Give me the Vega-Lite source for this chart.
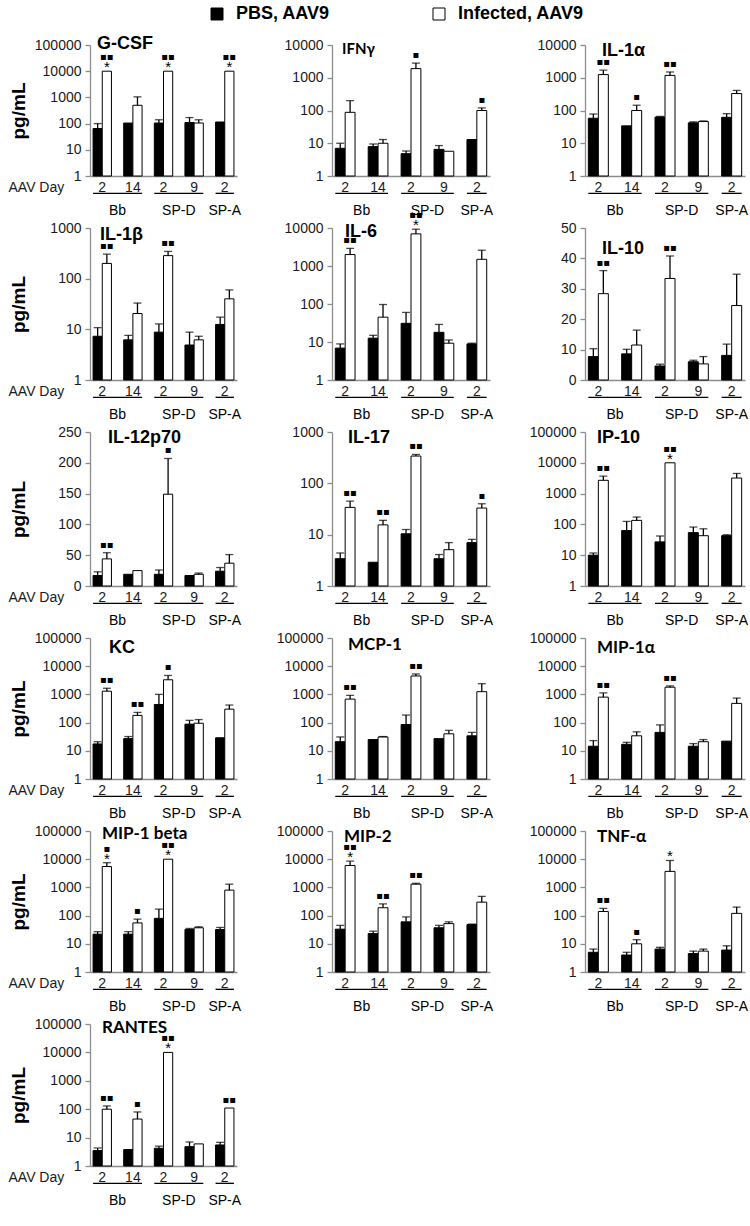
{
"$schema":"https://vega.github.io/schema/vega-lite/v6.json",
"padding":{"left":8,"top":5,"right":5,"bottom":5},
"background":"white",
"datasets":{
"groups":[{"grp":"Bb","first":"Bb 2","last":"Bb 14","n":2},{"grp":"SP-D","first":"SP-D 2","last":"SP-D 9","n":2},{"grp":"SP-A","first":"SP-A 2","last":"SP-A 2","n":1}],
"bars":[
{"c":"G-CSF","cond":"Bb 2","trt":"PBS, AAV9","val":65,"err":100},
{"c":"G-CSF","cond":"Bb 2","trt":"Infected, AAV9","val":10000,"err":10000,"sig":"▪▪","star":"*"},
{"c":"G-CSF","cond":"Bb 14","trt":"PBS, AAV9","val":105,"err":105},
{"c":"G-CSF","cond":"Bb 14","trt":"Infected, AAV9","val":500,"err":1050},
{"c":"G-CSF","cond":"SP-D 2","trt":"PBS, AAV9","val":105,"err":140},
{"c":"G-CSF","cond":"SP-D 2","trt":"Infected, AAV9","val":10000,"err":10000,"sig":"▪▪","star":"*"},
{"c":"G-CSF","cond":"SP-D 9","trt":"PBS, AAV9","val":110,"err":170},
{"c":"G-CSF","cond":"SP-D 9","trt":"Infected, AAV9","val":105,"err":140},
{"c":"G-CSF","cond":"SP-A 2","trt":"PBS, AAV9","val":115,"err":115},
{"c":"G-CSF","cond":"SP-A 2","trt":"Infected, AAV9","val":10000,"err":10000,"sig":"▪▪","star":"*"},
{"c":"IFNγ","cond":"Bb 2","trt":"PBS, AAV9","val":7,"err":10},
{"c":"IFNγ","cond":"Bb 2","trt":"Infected, AAV9","val":88,"err":200},
{"c":"IFNγ","cond":"Bb 14","trt":"PBS, AAV9","val":7.9,"err":9.5},
{"c":"IFNγ","cond":"Bb 14","trt":"Infected, AAV9","val":10,"err":13},
{"c":"IFNγ","cond":"SP-D 2","trt":"PBS, AAV9","val":4.8,"err":5.8},
{"c":"IFNγ","cond":"SP-D 2","trt":"Infected, AAV9","val":1900,"err":2800,"sig":"▪"},
{"c":"IFNγ","cond":"SP-D 9","trt":"PBS, AAV9","val":6.5,"err":8.5},
{"c":"IFNγ","cond":"SP-D 9","trt":"Infected, AAV9","val":5.7,"err":5.7},
{"c":"IFNγ","cond":"SP-A 2","trt":"PBS, AAV9","val":13,"err":13},
{"c":"IFNγ","cond":"SP-A 2","trt":"Infected, AAV9","val":100,"err":120,"sig":"▪"},
{"c":"IL-1α","cond":"Bb 2","trt":"PBS, AAV9","val":58,"err":78},
{"c":"IL-1α","cond":"Bb 2","trt":"Infected, AAV9","val":1250,"err":1700,"sig":"▪▪"},
{"c":"IL-1α","cond":"Bb 14","trt":"PBS, AAV9","val":34,"err":34},
{"c":"IL-1α","cond":"Bb 14","trt":"Infected, AAV9","val":100,"err":145,"sig":"▪"},
{"c":"IL-1α","cond":"SP-D 2","trt":"PBS, AAV9","val":63,"err":66},
{"c":"IL-1α","cond":"SP-D 2","trt":"Infected, AAV9","val":1180,"err":1500,"sig":"▪▪"},
{"c":"IL-1α","cond":"SP-D 9","trt":"PBS, AAV9","val":42,"err":45},
{"c":"IL-1α","cond":"SP-D 9","trt":"Infected, AAV9","val":46,"err":48},
{"c":"IL-1α","cond":"SP-A 2","trt":"PBS, AAV9","val":62,"err":80},
{"c":"IL-1α","cond":"SP-A 2","trt":"Infected, AAV9","val":330,"err":410},
{"c":"IL-1β","cond":"Bb 2","trt":"PBS, AAV9","val":7.3,"err":10.8},
{"c":"IL-1β","cond":"Bb 2","trt":"Infected, AAV9","val":200,"err":305,"sig":"▪▪"},
{"c":"IL-1β","cond":"Bb 14","trt":"PBS, AAV9","val":6.2,"err":7.6},
{"c":"IL-1β","cond":"Bb 14","trt":"Infected, AAV9","val":20.5,"err":33},
{"c":"IL-1β","cond":"SP-D 2","trt":"PBS, AAV9","val":8.8,"err":12.8},
{"c":"IL-1β","cond":"SP-D 2","trt":"Infected, AAV9","val":285,"err":345,"sig":"▪▪"},
{"c":"IL-1β","cond":"SP-D 9","trt":"PBS, AAV9","val":4.9,"err":8.8},
{"c":"IL-1β","cond":"SP-D 9","trt":"Infected, AAV9","val":6.2,"err":7.3},
{"c":"IL-1β","cond":"SP-A 2","trt":"PBS, AAV9","val":12.5,"err":17.4},
{"c":"IL-1β","cond":"SP-A 2","trt":"Infected, AAV9","val":40,"err":60},
{"c":"IL-6","cond":"Bb 2","trt":"PBS, AAV9","val":6.9,"err":8.9},
{"c":"IL-6","cond":"Bb 2","trt":"Infected, AAV9","val":2000,"err":2900,"sig":"▪▪"},
{"c":"IL-6","cond":"Bb 14","trt":"PBS, AAV9","val":12.6,"err":15},
{"c":"IL-6","cond":"Bb 14","trt":"Infected, AAV9","val":45,"err":97},
{"c":"IL-6","cond":"SP-D 2","trt":"PBS, AAV9","val":31,"err":60},
{"c":"IL-6","cond":"SP-D 2","trt":"Infected, AAV9","val":7000,"err":9300,"sig":"▪▪","star":"*"},
{"c":"IL-6","cond":"SP-D 9","trt":"PBS, AAV9","val":18,"err":29},
{"c":"IL-6","cond":"SP-D 9","trt":"Infected, AAV9","val":9.3,"err":11.3},
{"c":"IL-6","cond":"SP-A 2","trt":"PBS, AAV9","val":8.9,"err":9.3},
{"c":"IL-6","cond":"SP-A 2","trt":"Infected, AAV9","val":1500,"err":2600},
{"c":"IL-10","cond":"Bb 2","trt":"PBS, AAV9","val":7.7,"err":10.3},
{"c":"IL-10","cond":"Bb 2","trt":"Infected, AAV9","val":28.4,"err":36,"sig":"▪▪"},
{"c":"IL-10","cond":"Bb 14","trt":"PBS, AAV9","val":8.6,"err":10.1},
{"c":"IL-10","cond":"Bb 14","trt":"Infected, AAV9","val":11.5,"err":16.4},
{"c":"IL-10","cond":"SP-D 2","trt":"PBS, AAV9","val":4.6,"err":5.2},
{"c":"IL-10","cond":"SP-D 2","trt":"Infected, AAV9","val":33.4,"err":40.8,"sig":"▪▪"},
{"c":"IL-10","cond":"SP-D 9","trt":"PBS, AAV9","val":6,"err":6.5},
{"c":"IL-10","cond":"SP-D 9","trt":"Infected, AAV9","val":5.3,"err":7.7},
{"c":"IL-10","cond":"SP-A 2","trt":"PBS, AAV9","val":8.1,"err":11.8},
{"c":"IL-10","cond":"SP-A 2","trt":"Infected, AAV9","val":24.5,"err":34.8},
{"c":"IL-12p70","cond":"Bb 2","trt":"PBS, AAV9","val":17,"err":23},
{"c":"IL-12p70","cond":"Bb 2","trt":"Infected, AAV9","val":44,"err":54,"sig":"▪▪"},
{"c":"IL-12p70","cond":"Bb 14","trt":"PBS, AAV9","val":19,"err":19},
{"c":"IL-12p70","cond":"Bb 14","trt":"Infected, AAV9","val":25,"err":25},
{"c":"IL-12p70","cond":"SP-D 2","trt":"PBS, AAV9","val":19,"err":26},
{"c":"IL-12p70","cond":"SP-D 2","trt":"Infected, AAV9","val":149,"err":207,"sig":"▪"},
{"c":"IL-12p70","cond":"SP-D 9","trt":"PBS, AAV9","val":17,"err":17},
{"c":"IL-12p70","cond":"SP-D 9","trt":"Infected, AAV9","val":19,"err":21},
{"c":"IL-12p70","cond":"SP-A 2","trt":"PBS, AAV9","val":24,"err":30},
{"c":"IL-12p70","cond":"SP-A 2","trt":"Infected, AAV9","val":37,"err":51},
{"c":"IL-17","cond":"Bb 2","trt":"PBS, AAV9","val":3.4,"err":4.4},
{"c":"IL-17","cond":"Bb 2","trt":"Infected, AAV9","val":34,"err":45,"sig":"▪▪"},
{"c":"IL-17","cond":"Bb 14","trt":"PBS, AAV9","val":2.9,"err":2.9},
{"c":"IL-17","cond":"Bb 14","trt":"Infected, AAV9","val":15.5,"err":19,"sig":"▪▪"},
{"c":"IL-17","cond":"SP-D 2","trt":"PBS, AAV9","val":10.4,"err":12.6},
{"c":"IL-17","cond":"SP-D 2","trt":"Infected, AAV9","val":340,"err":365,"sig":"▪▪"},
{"c":"IL-17","cond":"SP-D 9","trt":"PBS, AAV9","val":3.4,"err":4.1},
{"c":"IL-17","cond":"SP-D 9","trt":"Infected, AAV9","val":5.1,"err":7},
{"c":"IL-17","cond":"SP-A 2","trt":"PBS, AAV9","val":7,"err":8.1},
{"c":"IL-17","cond":"SP-A 2","trt":"Infected, AAV9","val":33,"err":40,"sig":"▪"},
{"c":"IP-10","cond":"Bb 2","trt":"PBS, AAV9","val":10,"err":11.8},
{"c":"IP-10","cond":"Bb 2","trt":"Infected, AAV9","val":2700,"err":3700,"sig":"▪▪"},
{"c":"IP-10","cond":"Bb 14","trt":"PBS, AAV9","val":63,"err":125},
{"c":"IP-10","cond":"Bb 14","trt":"Infected, AAV9","val":135,"err":173},
{"c":"IP-10","cond":"SP-D 2","trt":"PBS, AAV9","val":27,"err":42},
{"c":"IP-10","cond":"SP-D 2","trt":"Infected, AAV9","val":10000,"err":10000,"sig":"▪▪","star":"*"},
{"c":"IP-10","cond":"SP-D 9","trt":"PBS, AAV9","val":54,"err":82},
{"c":"IP-10","cond":"SP-D 9","trt":"Infected, AAV9","val":43,"err":72},
{"c":"IP-10","cond":"SP-A 2","trt":"PBS, AAV9","val":43,"err":46},
{"c":"IP-10","cond":"SP-A 2","trt":"Infected, AAV9","val":3200,"err":4500},
{"c":"KC","cond":"Bb 2","trt":"PBS, AAV9","val":17.5,"err":21},
{"c":"KC","cond":"Bb 2","trt":"Infected, AAV9","val":1300,"err":1650,"sig":"▪▪"},
{"c":"KC","cond":"Bb 14","trt":"PBS, AAV9","val":27,"err":32},
{"c":"KC","cond":"Bb 14","trt":"Infected, AAV9","val":180,"err":230,"sig":"▪▪"},
{"c":"KC","cond":"SP-D 2","trt":"PBS, AAV9","val":440,"err":1000},
{"c":"KC","cond":"SP-D 2","trt":"Infected, AAV9","val":3300,"err":4700,"sig":"▪"},
{"c":"KC","cond":"SP-D 9","trt":"PBS, AAV9","val":88,"err":120},
{"c":"KC","cond":"SP-D 9","trt":"Infected, AAV9","val":95,"err":128},
{"c":"KC","cond":"SP-A 2","trt":"PBS, AAV9","val":29,"err":29},
{"c":"KC","cond":"SP-A 2","trt":"Infected, AAV9","val":300,"err":420},
{"c":"MCP-1","cond":"Bb 2","trt":"PBS, AAV9","val":21,"err":31},
{"c":"MCP-1","cond":"Bb 2","trt":"Infected, AAV9","val":680,"err":930,"sig":"▪▪"},
{"c":"MCP-1","cond":"Bb 14","trt":"PBS, AAV9","val":25,"err":25},
{"c":"MCP-1","cond":"Bb 14","trt":"Infected, AAV9","val":31,"err":32},
{"c":"MCP-1","cond":"SP-D 2","trt":"PBS, AAV9","val":85,"err":185},
{"c":"MCP-1","cond":"SP-D 2","trt":"Infected, AAV9","val":4500,"err":5300,"sig":"▪▪"},
{"c":"MCP-1","cond":"SP-D 9","trt":"PBS, AAV9","val":27,"err":27},
{"c":"MCP-1","cond":"SP-D 9","trt":"Infected, AAV9","val":40,"err":53},
{"c":"MCP-1","cond":"SP-A 2","trt":"PBS, AAV9","val":34,"err":45},
{"c":"MCP-1","cond":"SP-A 2","trt":"Infected, AAV9","val":1250,"err":2400},
{"c":"MIP-1α","cond":"Bb 2","trt":"PBS, AAV9","val":14.5,"err":23},
{"c":"MIP-1α","cond":"Bb 2","trt":"Infected, AAV9","val":800,"err":1130,"sig":"▪▪"},
{"c":"MIP-1α","cond":"Bb 14","trt":"PBS, AAV9","val":17,"err":20},
{"c":"MIP-1α","cond":"Bb 14","trt":"Infected, AAV9","val":34,"err":47},
{"c":"MIP-1α","cond":"SP-D 2","trt":"PBS, AAV9","val":45,"err":83},
{"c":"MIP-1α","cond":"SP-D 2","trt":"Infected, AAV9","val":1800,"err":2000,"sig":"▪▪"},
{"c":"MIP-1α","cond":"SP-D 9","trt":"PBS, AAV9","val":14.5,"err":18},
{"c":"MIP-1α","cond":"SP-D 9","trt":"Infected, AAV9","val":21,"err":25},
{"c":"MIP-1α","cond":"SP-A 2","trt":"PBS, AAV9","val":22,"err":22},
{"c":"MIP-1α","cond":"SP-A 2","trt":"Infected, AAV9","val":480,"err":740},
{"c":"MIP-1 beta","cond":"Bb 2","trt":"PBS, AAV9","val":22,"err":27},
{"c":"MIP-1 beta","cond":"Bb 2","trt":"Infected, AAV9","val":5500,"err":7500,"sig":"▪","star":"*"},
{"c":"MIP-1 beta","cond":"Bb 14","trt":"PBS, AAV9","val":22,"err":27},
{"c":"MIP-1 beta","cond":"Bb 14","trt":"Infected, AAV9","val":55,"err":75,"sig":"▪"},
{"c":"MIP-1 beta","cond":"SP-D 2","trt":"PBS, AAV9","val":80,"err":170},
{"c":"MIP-1 beta","cond":"SP-D 2","trt":"Infected, AAV9","val":10000,"err":10000,"sig":"▪▪","star":"*"},
{"c":"MIP-1 beta","cond":"SP-D 9","trt":"PBS, AAV9","val":32,"err":35},
{"c":"MIP-1 beta","cond":"SP-D 9","trt":"Infected, AAV9","val":37,"err":40},
{"c":"MIP-1 beta","cond":"SP-A 2","trt":"PBS, AAV9","val":32,"err":38},
{"c":"MIP-1 beta","cond":"SP-A 2","trt":"Infected, AAV9","val":800,"err":1300},
{"c":"MIP-2","cond":"Bb 2","trt":"PBS, AAV9","val":33,"err":45},
{"c":"MIP-2","cond":"Bb 2","trt":"Infected, AAV9","val":6000,"err":8500,"sig":"▪▪","star":"*"},
{"c":"MIP-2","cond":"Bb 14","trt":"PBS, AAV9","val":23,"err":28},
{"c":"MIP-2","cond":"Bb 14","trt":"Infected, AAV9","val":190,"err":260,"sig":"▪▪"},
{"c":"MIP-2","cond":"SP-D 2","trt":"PBS, AAV9","val":60,"err":90},
{"c":"MIP-2","cond":"SP-D 2","trt":"Infected, AAV9","val":1300,"err":1400,"sig":"▪▪"},
{"c":"MIP-2","cond":"SP-D 9","trt":"PBS, AAV9","val":37,"err":45},
{"c":"MIP-2","cond":"SP-D 9","trt":"Infected, AAV9","val":52,"err":60},
{"c":"MIP-2","cond":"SP-A 2","trt":"PBS, AAV9","val":48,"err":50},
{"c":"MIP-2","cond":"SP-A 2","trt":"Infected, AAV9","val":300,"err":480},
{"c":"TNF-α","cond":"Bb 2","trt":"PBS, AAV9","val":5,"err":6.5},
{"c":"TNF-α","cond":"Bb 2","trt":"Infected, AAV9","val":140,"err":180,"sig":"▪▪"},
{"c":"TNF-α","cond":"Bb 14","trt":"PBS, AAV9","val":4,"err":5},
{"c":"TNF-α","cond":"Bb 14","trt":"Infected, AAV9","val":10,"err":14,"sig":"▪"},
{"c":"TNF-α","cond":"SP-D 2","trt":"PBS, AAV9","val":6.5,"err":7.5},
{"c":"TNF-α","cond":"SP-D 2","trt":"Infected, AAV9","val":3700,"err":9000,"star":"*"},
{"c":"TNF-α","cond":"SP-D 9","trt":"PBS, AAV9","val":4.5,"err":5.5},
{"c":"TNF-α","cond":"SP-D 9","trt":"Infected, AAV9","val":5.5,"err":6.5},
{"c":"TNF-α","cond":"SP-A 2","trt":"PBS, AAV9","val":6,"err":8.5},
{"c":"TNF-α","cond":"SP-A 2","trt":"Infected, AAV9","val":120,"err":200},
{"c":"RANTES","cond":"Bb 2","trt":"PBS, AAV9","val":3.5,"err":4.3},
{"c":"RANTES","cond":"Bb 2","trt":"Infected, AAV9","val":100,"err":130,"sig":"▪▪"},
{"c":"RANTES","cond":"Bb 14","trt":"PBS, AAV9","val":3.8,"err":3.8},
{"c":"RANTES","cond":"Bb 14","trt":"Infected, AAV9","val":45,"err":80,"sig":"▪"},
{"c":"RANTES","cond":"SP-D 2","trt":"PBS, AAV9","val":4.2,"err":5},
{"c":"RANTES","cond":"SP-D 2","trt":"Infected, AAV9","val":10000,"err":10000,"sig":"▪▪","star":"*"},
{"c":"RANTES","cond":"SP-D 9","trt":"PBS, AAV9","val":4.8,"err":7},
{"c":"RANTES","cond":"SP-D 9","trt":"Infected, AAV9","val":6,"err":6},
{"c":"RANTES","cond":"SP-A 2","trt":"PBS, AAV9","val":5.5,"err":6.8},
{"c":"RANTES","cond":"SP-A 2","trt":"Infected, AAV9","val":110,"err":110,"sig":"▪▪"}
]},
"columns":3,
"spacing":{"row":0,"column":95},
"bounds":"flush",
"align":"each",
"resolve":{"scale":{"xOffset":"independent"}},
"concat":[
{"width":147,"height":131,"title":{"text":"G-CSF","dx":7,"offset":-15},"data":{"name":"bars"},"transform":[{"filter":"datum.c == 'G-CSF'"}],
"encoding":{"x":{"field":"cond","type":"nominal","sort":null,"scale":{"domain":["Bb 2","Bb 14","SP-D 2","SP-D 9","SP-A 2"],"paddingInner":0.4,"paddingOuter":0.1},"axis":{"labelExpr":"split(datum.label, ' ')[1]","title":"AAV Day","titleX":-82,"titleY":11,"titleAlign":"left","titleBaseline":"middle","titleAngle":0}},
"xOffset":{"field":"trt","type":"nominal","sort":null,"scale":{"domain":["PBS, AAV9","Infected, AAV9"],"paddingInner":0,"paddingOuter":0}}},
"layer":[
{"mark":"bar","encoding":{"y":{"field":"val","type":"quantitative","stack":null,"scale":{"type":"log","domain":[1,100000],"nice":false},"axis":{"values":[1,10,100,1000,10000,100000],"tickCount":10,"format":"d","title":"pg/mL","titleX":-72,"titleBaseline":"middle"}},"y2":{"datum":1},"fill":{"field":"trt","type":"nominal","scale":{"domain":["PBS, AAV9","Infected, AAV9"],"range":["black","white"]},"legend":{"title":null}}}},
{"transform":[{"filter":"datum.err > datum.val"}],"mark":"rule","encoding":{"y":{"field":"val","type":"quantitative"},"y2":{"field":"err"}}},
{"transform":[{"filter":"datum.err > datum.val"}],"mark":{"type":"tick","size":8},"encoding":{"y":{"field":"err","type":"quantitative"}}},
{"transform":[{"filter":"datum.star"}],"mark":{"type":"text","font":"Liberation Sans","fontSize":15,"dy":1},"encoding":{"y":{"field":"err","type":"quantitative"},"text":{"field":"star"}}},
{"transform":[{"filter":"datum.sig && datum.star"}],"mark":{"type":"text","font":"DejaVu Sans","fontSize":10,"dy":-11},"encoding":{"y":{"field":"err","type":"quantitative"},"text":{"field":"sig"}}},
{"transform":[{"filter":"datum.sig && !datum.star"}],"mark":{"type":"text","font":"DejaVu Sans","fontSize":10,"dy":-5},"encoding":{"y":{"field":"err","type":"quantitative"},"text":{"field":"sig"}}}
]},
{"width":158,"height":131,"title":{"text":"IFNγ","font":"Lato","fontSize":15,"dx":10,"offset":-19},"data":{"name":"bars"},"transform":[{"filter":"datum.c == 'IFNγ'"}],
"encoding":{"x":{"field":"cond","type":"nominal","sort":null,"scale":{"domain":["Bb 2","Bb 14","SP-D 2","SP-D 9","SP-A 2"],"paddingInner":0.4,"paddingOuter":0.1},"axis":{"labelExpr":"split(datum.label, ' ')[1]","title":null}},
"xOffset":{"field":"trt","type":"nominal","sort":null,"scale":{"domain":["PBS, AAV9","Infected, AAV9"],"paddingInner":0,"paddingOuter":0}}},
"layer":[
{"mark":"bar","encoding":{"y":{"field":"val","type":"quantitative","stack":null,"scale":{"type":"log","domain":[1,10000],"nice":false},"axis":{"values":[1,10,100,1000,10000],"tickCount":10,"format":"d","title":null}},"y2":{"datum":1},"fill":{"field":"trt","type":"nominal","scale":{"domain":["PBS, AAV9","Infected, AAV9"],"range":["black","white"]},"legend":{"title":null}}}},
{"transform":[{"filter":"datum.err > datum.val"}],"mark":"rule","encoding":{"y":{"field":"val","type":"quantitative"},"y2":{"field":"err"}}},
{"transform":[{"filter":"datum.err > datum.val"}],"mark":{"type":"tick","size":8},"encoding":{"y":{"field":"err","type":"quantitative"}}},
{"transform":[{"filter":"datum.star"}],"mark":{"type":"text","font":"Liberation Sans","fontSize":15,"dy":1},"encoding":{"y":{"field":"err","type":"quantitative"},"text":{"field":"star"}}},
{"transform":[{"filter":"datum.sig && datum.star"}],"mark":{"type":"text","font":"DejaVu Sans","fontSize":10,"dy":-11},"encoding":{"y":{"field":"err","type":"quantitative"},"text":{"field":"sig"}}},
{"transform":[{"filter":"datum.sig && !datum.star"}],"mark":{"type":"text","font":"DejaVu Sans","fontSize":10,"dy":-5},"encoding":{"y":{"field":"err","type":"quantitative"},"text":{"field":"sig"}}}
]},
{"width":160,"height":131,"title":{"text":"IL-1α","dx":17,"offset":-22},"data":{"name":"bars"},"transform":[{"filter":"datum.c == 'IL-1α'"}],
"encoding":{"x":{"field":"cond","type":"nominal","sort":null,"scale":{"domain":["Bb 2","Bb 14","SP-D 2","SP-D 9","SP-A 2"],"paddingInner":0.4,"paddingOuter":0.1},"axis":{"labelExpr":"split(datum.label, ' ')[1]","title":null}},
"xOffset":{"field":"trt","type":"nominal","sort":null,"scale":{"domain":["PBS, AAV9","Infected, AAV9"],"paddingInner":0,"paddingOuter":0}}},
"layer":[
{"mark":"bar","encoding":{"y":{"field":"val","type":"quantitative","stack":null,"scale":{"type":"log","domain":[1,10000],"nice":false},"axis":{"values":[1,10,100,1000,10000],"tickCount":10,"format":"d","title":null}},"y2":{"datum":1},"fill":{"field":"trt","type":"nominal","scale":{"domain":["PBS, AAV9","Infected, AAV9"],"range":["black","white"]},"legend":{"title":null}}}},
{"transform":[{"filter":"datum.err > datum.val"}],"mark":"rule","encoding":{"y":{"field":"val","type":"quantitative"},"y2":{"field":"err"}}},
{"transform":[{"filter":"datum.err > datum.val"}],"mark":{"type":"tick","size":8},"encoding":{"y":{"field":"err","type":"quantitative"}}},
{"transform":[{"filter":"datum.star"}],"mark":{"type":"text","font":"Liberation Sans","fontSize":15,"dy":1},"encoding":{"y":{"field":"err","type":"quantitative"},"text":{"field":"star"}}},
{"transform":[{"filter":"datum.sig && datum.star"}],"mark":{"type":"text","font":"DejaVu Sans","fontSize":10,"dy":-11},"encoding":{"y":{"field":"err","type":"quantitative"},"text":{"field":"sig"}}},
{"transform":[{"filter":"datum.sig && !datum.star"}],"mark":{"type":"text","font":"DejaVu Sans","fontSize":10,"dy":-5},"encoding":{"y":{"field":"err","type":"quantitative"},"text":{"field":"sig"}}}
]},
{"width":147,"height":52,"data":{"name":"groups"},"layer":[
{"mark":"rule","encoding":{"x":{"field":"first","type":"nominal","bandPosition":0,"scale":{"domain":["Bb 2","Bb 14","SP-D 2","SP-D 9","SP-A 2"],"paddingInner":0.4,"paddingOuter":0.1},"axis":null},"x2":{"field":"last","bandPosition":1},"y":{"datum":"line","type":"nominal","scale":{"type":"point","domain":["line","label"],"padding":2},"axis":null}}},
{"transform":[{"filter":"datum.n == 2"}],"mark":{"type":"text","baseline":"middle","fontSize":14},"encoding":{"x":{"field":"first","type":"nominal","bandPosition":1.3333,"axis":null},"y":{"datum":"label","type":"nominal","axis":null},"text":{"field":"grp"}}},
{"transform":[{"filter":"datum.n == 1"}],"mark":{"type":"text","baseline":"middle","fontSize":14},"encoding":{"x":{"field":"first","type":"nominal","bandPosition":0.5,"axis":null},"y":{"datum":"label","type":"nominal","axis":null},"text":{"field":"grp"}}}
]},
{"width":158,"height":52,"data":{"name":"groups"},"layer":[
{"mark":"rule","encoding":{"x":{"field":"first","type":"nominal","bandPosition":0,"scale":{"domain":["Bb 2","Bb 14","SP-D 2","SP-D 9","SP-A 2"],"paddingInner":0.4,"paddingOuter":0.1},"axis":null},"x2":{"field":"last","bandPosition":1},"y":{"datum":"line","type":"nominal","scale":{"type":"point","domain":["line","label"],"padding":2},"axis":null}}},
{"transform":[{"filter":"datum.n == 2"}],"mark":{"type":"text","baseline":"middle","fontSize":14},"encoding":{"x":{"field":"first","type":"nominal","bandPosition":1.3333,"axis":null},"y":{"datum":"label","type":"nominal","axis":null},"text":{"field":"grp"}}},
{"transform":[{"filter":"datum.n == 1"}],"mark":{"type":"text","baseline":"middle","fontSize":14},"encoding":{"x":{"field":"first","type":"nominal","bandPosition":0.5,"axis":null},"y":{"datum":"label","type":"nominal","axis":null},"text":{"field":"grp"}}}
]},
{"width":160,"height":52,"data":{"name":"groups"},"layer":[
{"mark":"rule","encoding":{"x":{"field":"first","type":"nominal","bandPosition":0,"scale":{"domain":["Bb 2","Bb 14","SP-D 2","SP-D 9","SP-A 2"],"paddingInner":0.4,"paddingOuter":0.1},"axis":null},"x2":{"field":"last","bandPosition":1},"y":{"datum":"line","type":"nominal","scale":{"type":"point","domain":["line","label"],"padding":2},"axis":null}}},
{"transform":[{"filter":"datum.n == 2"}],"mark":{"type":"text","baseline":"middle","fontSize":14},"encoding":{"x":{"field":"first","type":"nominal","bandPosition":1.3333,"axis":null},"y":{"datum":"label","type":"nominal","axis":null},"text":{"field":"grp"}}},
{"transform":[{"filter":"datum.n == 1"}],"mark":{"type":"text","baseline":"middle","fontSize":14},"encoding":{"x":{"field":"first","type":"nominal","bandPosition":0.5,"axis":null},"y":{"datum":"label","type":"nominal","axis":null},"text":{"field":"grp"}}}
]},
{"width":147,"height":152,"title":{"text":"IL-1β","dx":10,"offset":-23},"data":{"name":"bars"},"transform":[{"filter":"datum.c == 'IL-1β'"}],
"encoding":{"x":{"field":"cond","type":"nominal","sort":null,"scale":{"domain":["Bb 2","Bb 14","SP-D 2","SP-D 9","SP-A 2"],"paddingInner":0.4,"paddingOuter":0.1},"axis":{"labelExpr":"split(datum.label, ' ')[1]","title":"AAV Day","titleX":-82,"titleY":11,"titleAlign":"left","titleBaseline":"middle","titleAngle":0}},
"xOffset":{"field":"trt","type":"nominal","sort":null,"scale":{"domain":["PBS, AAV9","Infected, AAV9"],"paddingInner":0,"paddingOuter":0}}},
"layer":[
{"mark":"bar","encoding":{"y":{"field":"val","type":"quantitative","stack":null,"scale":{"type":"log","domain":[1,1000],"nice":false},"axis":{"values":[1,10,100,1000],"tickCount":10,"format":"d","title":"pg/mL","titleX":-72,"titleBaseline":"middle"}},"y2":{"datum":1},"fill":{"field":"trt","type":"nominal","scale":{"domain":["PBS, AAV9","Infected, AAV9"],"range":["black","white"]},"legend":{"title":null}}}},
{"transform":[{"filter":"datum.err > datum.val"}],"mark":"rule","encoding":{"y":{"field":"val","type":"quantitative"},"y2":{"field":"err"}}},
{"transform":[{"filter":"datum.err > datum.val"}],"mark":{"type":"tick","size":8},"encoding":{"y":{"field":"err","type":"quantitative"}}},
{"transform":[{"filter":"datum.star"}],"mark":{"type":"text","font":"Liberation Sans","fontSize":15,"dy":1},"encoding":{"y":{"field":"err","type":"quantitative"},"text":{"field":"star"}}},
{"transform":[{"filter":"datum.sig && datum.star"}],"mark":{"type":"text","font":"DejaVu Sans","fontSize":10,"dy":-11},"encoding":{"y":{"field":"err","type":"quantitative"},"text":{"field":"sig"}}},
{"transform":[{"filter":"datum.sig && !datum.star"}],"mark":{"type":"text","font":"DejaVu Sans","fontSize":10,"dy":-5},"encoding":{"y":{"field":"err","type":"quantitative"},"text":{"field":"sig"}}}
]},
{"width":158,"height":152,"title":{"text":"IL-6","dx":13,"offset":-31},"data":{"name":"bars"},"transform":[{"filter":"datum.c == 'IL-6'"}],
"encoding":{"x":{"field":"cond","type":"nominal","sort":null,"scale":{"domain":["Bb 2","Bb 14","SP-D 2","SP-D 9","SP-A 2"],"paddingInner":0.4,"paddingOuter":0.1},"axis":{"labelExpr":"split(datum.label, ' ')[1]","title":null}},
"xOffset":{"field":"trt","type":"nominal","sort":null,"scale":{"domain":["PBS, AAV9","Infected, AAV9"],"paddingInner":0,"paddingOuter":0}}},
"layer":[
{"mark":"bar","encoding":{"y":{"field":"val","type":"quantitative","stack":null,"scale":{"type":"log","domain":[1,10000],"nice":false},"axis":{"values":[1,10,100,1000,10000],"tickCount":10,"format":"d","title":null}},"y2":{"datum":1},"fill":{"field":"trt","type":"nominal","scale":{"domain":["PBS, AAV9","Infected, AAV9"],"range":["black","white"]},"legend":{"title":null}}}},
{"transform":[{"filter":"datum.err > datum.val"}],"mark":"rule","encoding":{"y":{"field":"val","type":"quantitative"},"y2":{"field":"err"}}},
{"transform":[{"filter":"datum.err > datum.val"}],"mark":{"type":"tick","size":8},"encoding":{"y":{"field":"err","type":"quantitative"}}},
{"transform":[{"filter":"datum.star"}],"mark":{"type":"text","font":"Liberation Sans","fontSize":15,"dy":1},"encoding":{"y":{"field":"err","type":"quantitative"},"text":{"field":"star"}}},
{"transform":[{"filter":"datum.sig && datum.star"}],"mark":{"type":"text","font":"DejaVu Sans","fontSize":10,"dy":-11},"encoding":{"y":{"field":"err","type":"quantitative"},"text":{"field":"sig"}}},
{"transform":[{"filter":"datum.sig && !datum.star"}],"mark":{"type":"text","font":"DejaVu Sans","fontSize":10,"dy":-5},"encoding":{"y":{"field":"err","type":"quantitative"},"text":{"field":"sig"}}}
]},
{"width":160,"height":152,"title":{"text":"IL-10","dx":17,"offset":-37},"data":{"name":"bars"},"transform":[{"filter":"datum.c == 'IL-10'"}],
"encoding":{"x":{"field":"cond","type":"nominal","sort":null,"scale":{"domain":["Bb 2","Bb 14","SP-D 2","SP-D 9","SP-A 2"],"paddingInner":0.4,"paddingOuter":0.1},"axis":{"labelExpr":"split(datum.label, ' ')[1]","title":null}},
"xOffset":{"field":"trt","type":"nominal","sort":null,"scale":{"domain":["PBS, AAV9","Infected, AAV9"],"paddingInner":0,"paddingOuter":0}}},
"layer":[
{"mark":"bar","encoding":{"y":{"field":"val","type":"quantitative","stack":null,"scale":{"domain":[0,50],"nice":false},"axis":{"values":[0,10,20,30,40,50],"tickCount":10,"format":"d","title":null,"labelOverlap":false}},"fill":{"field":"trt","type":"nominal","scale":{"domain":["PBS, AAV9","Infected, AAV9"],"range":["black","white"]},"legend":{"title":null}}}},
{"transform":[{"filter":"datum.err > datum.val"}],"mark":"rule","encoding":{"y":{"field":"val","type":"quantitative"},"y2":{"field":"err"}}},
{"transform":[{"filter":"datum.err > datum.val"}],"mark":{"type":"tick","size":8},"encoding":{"y":{"field":"err","type":"quantitative"}}},
{"transform":[{"filter":"datum.star"}],"mark":{"type":"text","font":"Liberation Sans","fontSize":15,"dy":1},"encoding":{"y":{"field":"err","type":"quantitative"},"text":{"field":"star"}}},
{"transform":[{"filter":"datum.sig && datum.star"}],"mark":{"type":"text","font":"DejaVu Sans","fontSize":10,"dy":-11},"encoding":{"y":{"field":"err","type":"quantitative"},"text":{"field":"sig"}}},
{"transform":[{"filter":"datum.sig && !datum.star"}],"mark":{"type":"text","font":"DejaVu Sans","fontSize":10,"dy":-5},"encoding":{"y":{"field":"err","type":"quantitative"},"text":{"field":"sig"}}}
]},
{"width":147,"height":52,"data":{"name":"groups"},"layer":[
{"mark":"rule","encoding":{"x":{"field":"first","type":"nominal","bandPosition":0,"scale":{"domain":["Bb 2","Bb 14","SP-D 2","SP-D 9","SP-A 2"],"paddingInner":0.4,"paddingOuter":0.1},"axis":null},"x2":{"field":"last","bandPosition":1},"y":{"datum":"line","type":"nominal","scale":{"type":"point","domain":["line","label"],"padding":2},"axis":null}}},
{"transform":[{"filter":"datum.n == 2"}],"mark":{"type":"text","baseline":"middle","fontSize":14},"encoding":{"x":{"field":"first","type":"nominal","bandPosition":1.3333,"axis":null},"y":{"datum":"label","type":"nominal","axis":null},"text":{"field":"grp"}}},
{"transform":[{"filter":"datum.n == 1"}],"mark":{"type":"text","baseline":"middle","fontSize":14},"encoding":{"x":{"field":"first","type":"nominal","bandPosition":0.5,"axis":null},"y":{"datum":"label","type":"nominal","axis":null},"text":{"field":"grp"}}}
]},
{"width":158,"height":52,"data":{"name":"groups"},"layer":[
{"mark":"rule","encoding":{"x":{"field":"first","type":"nominal","bandPosition":0,"scale":{"domain":["Bb 2","Bb 14","SP-D 2","SP-D 9","SP-A 2"],"paddingInner":0.4,"paddingOuter":0.1},"axis":null},"x2":{"field":"last","bandPosition":1},"y":{"datum":"line","type":"nominal","scale":{"type":"point","domain":["line","label"],"padding":2},"axis":null}}},
{"transform":[{"filter":"datum.n == 2"}],"mark":{"type":"text","baseline":"middle","fontSize":14},"encoding":{"x":{"field":"first","type":"nominal","bandPosition":1.3333,"axis":null},"y":{"datum":"label","type":"nominal","axis":null},"text":{"field":"grp"}}},
{"transform":[{"filter":"datum.n == 1"}],"mark":{"type":"text","baseline":"middle","fontSize":14},"encoding":{"x":{"field":"first","type":"nominal","bandPosition":0.5,"axis":null},"y":{"datum":"label","type":"nominal","axis":null},"text":{"field":"grp"}}}
]},
{"width":160,"height":52,"data":{"name":"groups"},"layer":[
{"mark":"rule","encoding":{"x":{"field":"first","type":"nominal","bandPosition":0,"scale":{"domain":["Bb 2","Bb 14","SP-D 2","SP-D 9","SP-A 2"],"paddingInner":0.4,"paddingOuter":0.1},"axis":null},"x2":{"field":"last","bandPosition":1},"y":{"datum":"line","type":"nominal","scale":{"type":"point","domain":["line","label"],"padding":2},"axis":null}}},
{"transform":[{"filter":"datum.n == 2"}],"mark":{"type":"text","baseline":"middle","fontSize":14},"encoding":{"x":{"field":"first","type":"nominal","bandPosition":1.3333,"axis":null},"y":{"datum":"label","type":"nominal","axis":null},"text":{"field":"grp"}}},
{"transform":[{"filter":"datum.n == 1"}],"mark":{"type":"text","baseline":"middle","fontSize":14},"encoding":{"x":{"field":"first","type":"nominal","bandPosition":0.5,"axis":null},"y":{"datum":"label","type":"nominal","axis":null},"text":{"field":"grp"}}}
]},
{"width":147,"height":154,"title":{"text":"IL-12p70","dx":18,"offset":-22},"data":{"name":"bars"},"transform":[{"filter":"datum.c == 'IL-12p70'"}],
"encoding":{"x":{"field":"cond","type":"nominal","sort":null,"scale":{"domain":["Bb 2","Bb 14","SP-D 2","SP-D 9","SP-A 2"],"paddingInner":0.4,"paddingOuter":0.1},"axis":{"labelExpr":"split(datum.label, ' ')[1]","title":"AAV Day","titleX":-82,"titleY":11,"titleAlign":"left","titleBaseline":"middle","titleAngle":0}},
"xOffset":{"field":"trt","type":"nominal","sort":null,"scale":{"domain":["PBS, AAV9","Infected, AAV9"],"paddingInner":0,"paddingOuter":0}}},
"layer":[
{"mark":"bar","encoding":{"y":{"field":"val","type":"quantitative","stack":null,"scale":{"domain":[0,250],"nice":false},"axis":{"values":[0,50,100,150,200,250],"tickCount":10,"format":"d","title":"pg/mL","titleX":-72,"titleBaseline":"middle","labelOverlap":false}},"fill":{"field":"trt","type":"nominal","scale":{"domain":["PBS, AAV9","Infected, AAV9"],"range":["black","white"]},"legend":{"title":null}}}},
{"transform":[{"filter":"datum.err > datum.val"}],"mark":"rule","encoding":{"y":{"field":"val","type":"quantitative"},"y2":{"field":"err"}}},
{"transform":[{"filter":"datum.err > datum.val"}],"mark":{"type":"tick","size":8},"encoding":{"y":{"field":"err","type":"quantitative"}}},
{"transform":[{"filter":"datum.star"}],"mark":{"type":"text","font":"Liberation Sans","fontSize":15,"dy":1},"encoding":{"y":{"field":"err","type":"quantitative"},"text":{"field":"star"}}},
{"transform":[{"filter":"datum.sig && datum.star"}],"mark":{"type":"text","font":"DejaVu Sans","fontSize":10,"dy":-11},"encoding":{"y":{"field":"err","type":"quantitative"},"text":{"field":"sig"}}},
{"transform":[{"filter":"datum.sig && !datum.star"}],"mark":{"type":"text","font":"DejaVu Sans","fontSize":10,"dy":-5},"encoding":{"y":{"field":"err","type":"quantitative"},"text":{"field":"sig"}}}
]},
{"width":158,"height":154,"title":{"text":"IL-17","dx":16,"offset":-22},"data":{"name":"bars"},"transform":[{"filter":"datum.c == 'IL-17'"}],
"encoding":{"x":{"field":"cond","type":"nominal","sort":null,"scale":{"domain":["Bb 2","Bb 14","SP-D 2","SP-D 9","SP-A 2"],"paddingInner":0.4,"paddingOuter":0.1},"axis":{"labelExpr":"split(datum.label, ' ')[1]","title":null}},
"xOffset":{"field":"trt","type":"nominal","sort":null,"scale":{"domain":["PBS, AAV9","Infected, AAV9"],"paddingInner":0,"paddingOuter":0}}},
"layer":[
{"mark":"bar","encoding":{"y":{"field":"val","type":"quantitative","stack":null,"scale":{"type":"log","domain":[1,1000],"nice":false},"axis":{"values":[1,10,100,1000],"tickCount":10,"format":"d","title":null}},"y2":{"datum":1},"fill":{"field":"trt","type":"nominal","scale":{"domain":["PBS, AAV9","Infected, AAV9"],"range":["black","white"]},"legend":{"title":null}}}},
{"transform":[{"filter":"datum.err > datum.val"}],"mark":"rule","encoding":{"y":{"field":"val","type":"quantitative"},"y2":{"field":"err"}}},
{"transform":[{"filter":"datum.err > datum.val"}],"mark":{"type":"tick","size":8},"encoding":{"y":{"field":"err","type":"quantitative"}}},
{"transform":[{"filter":"datum.star"}],"mark":{"type":"text","font":"Liberation Sans","fontSize":15,"dy":1},"encoding":{"y":{"field":"err","type":"quantitative"},"text":{"field":"star"}}},
{"transform":[{"filter":"datum.sig && datum.star"}],"mark":{"type":"text","font":"DejaVu Sans","fontSize":10,"dy":-11},"encoding":{"y":{"field":"err","type":"quantitative"},"text":{"field":"sig"}}},
{"transform":[{"filter":"datum.sig && !datum.star"}],"mark":{"type":"text","font":"DejaVu Sans","fontSize":10,"dy":-5},"encoding":{"y":{"field":"err","type":"quantitative"},"text":{"field":"sig"}}}
]},
{"width":160,"height":154,"title":{"text":"IP-10","dx":12,"offset":-22},"data":{"name":"bars"},"transform":[{"filter":"datum.c == 'IP-10'"}],
"encoding":{"x":{"field":"cond","type":"nominal","sort":null,"scale":{"domain":["Bb 2","Bb 14","SP-D 2","SP-D 9","SP-A 2"],"paddingInner":0.4,"paddingOuter":0.1},"axis":{"labelExpr":"split(datum.label, ' ')[1]","title":null}},
"xOffset":{"field":"trt","type":"nominal","sort":null,"scale":{"domain":["PBS, AAV9","Infected, AAV9"],"paddingInner":0,"paddingOuter":0}}},
"layer":[
{"mark":"bar","encoding":{"y":{"field":"val","type":"quantitative","stack":null,"scale":{"type":"log","domain":[1,100000],"nice":false},"axis":{"values":[1,10,100,1000,10000,100000],"tickCount":10,"format":"d","title":null}},"y2":{"datum":1},"fill":{"field":"trt","type":"nominal","scale":{"domain":["PBS, AAV9","Infected, AAV9"],"range":["black","white"]},"legend":{"title":null}}}},
{"transform":[{"filter":"datum.err > datum.val"}],"mark":"rule","encoding":{"y":{"field":"val","type":"quantitative"},"y2":{"field":"err"}}},
{"transform":[{"filter":"datum.err > datum.val"}],"mark":{"type":"tick","size":8},"encoding":{"y":{"field":"err","type":"quantitative"}}},
{"transform":[{"filter":"datum.star"}],"mark":{"type":"text","font":"Liberation Sans","fontSize":15,"dy":1},"encoding":{"y":{"field":"err","type":"quantitative"},"text":{"field":"star"}}},
{"transform":[{"filter":"datum.sig && datum.star"}],"mark":{"type":"text","font":"DejaVu Sans","fontSize":10,"dy":-11},"encoding":{"y":{"field":"err","type":"quantitative"},"text":{"field":"sig"}}},
{"transform":[{"filter":"datum.sig && !datum.star"}],"mark":{"type":"text","font":"DejaVu Sans","fontSize":10,"dy":-5},"encoding":{"y":{"field":"err","type":"quantitative"},"text":{"field":"sig"}}}
]},
{"width":147,"height":52,"data":{"name":"groups"},"layer":[
{"mark":"rule","encoding":{"x":{"field":"first","type":"nominal","bandPosition":0,"scale":{"domain":["Bb 2","Bb 14","SP-D 2","SP-D 9","SP-A 2"],"paddingInner":0.4,"paddingOuter":0.1},"axis":null},"x2":{"field":"last","bandPosition":1},"y":{"datum":"line","type":"nominal","scale":{"type":"point","domain":["line","label"],"padding":2},"axis":null}}},
{"transform":[{"filter":"datum.n == 2"}],"mark":{"type":"text","baseline":"middle","fontSize":14},"encoding":{"x":{"field":"first","type":"nominal","bandPosition":1.3333,"axis":null},"y":{"datum":"label","type":"nominal","axis":null},"text":{"field":"grp"}}},
{"transform":[{"filter":"datum.n == 1"}],"mark":{"type":"text","baseline":"middle","fontSize":14},"encoding":{"x":{"field":"first","type":"nominal","bandPosition":0.5,"axis":null},"y":{"datum":"label","type":"nominal","axis":null},"text":{"field":"grp"}}}
]},
{"width":158,"height":52,"data":{"name":"groups"},"layer":[
{"mark":"rule","encoding":{"x":{"field":"first","type":"nominal","bandPosition":0,"scale":{"domain":["Bb 2","Bb 14","SP-D 2","SP-D 9","SP-A 2"],"paddingInner":0.4,"paddingOuter":0.1},"axis":null},"x2":{"field":"last","bandPosition":1},"y":{"datum":"line","type":"nominal","scale":{"type":"point","domain":["line","label"],"padding":2},"axis":null}}},
{"transform":[{"filter":"datum.n == 2"}],"mark":{"type":"text","baseline":"middle","fontSize":14},"encoding":{"x":{"field":"first","type":"nominal","bandPosition":1.3333,"axis":null},"y":{"datum":"label","type":"nominal","axis":null},"text":{"field":"grp"}}},
{"transform":[{"filter":"datum.n == 1"}],"mark":{"type":"text","baseline":"middle","fontSize":14},"encoding":{"x":{"field":"first","type":"nominal","bandPosition":0.5,"axis":null},"y":{"datum":"label","type":"nominal","axis":null},"text":{"field":"grp"}}}
]},
{"width":160,"height":52,"data":{"name":"groups"},"layer":[
{"mark":"rule","encoding":{"x":{"field":"first","type":"nominal","bandPosition":0,"scale":{"domain":["Bb 2","Bb 14","SP-D 2","SP-D 9","SP-A 2"],"paddingInner":0.4,"paddingOuter":0.1},"axis":null},"x2":{"field":"last","bandPosition":1},"y":{"datum":"line","type":"nominal","scale":{"type":"point","domain":["line","label"],"padding":2},"axis":null}}},
{"transform":[{"filter":"datum.n == 2"}],"mark":{"type":"text","baseline":"middle","fontSize":14},"encoding":{"x":{"field":"first","type":"nominal","bandPosition":1.3333,"axis":null},"y":{"datum":"label","type":"nominal","axis":null},"text":{"field":"grp"}}},
{"transform":[{"filter":"datum.n == 1"}],"mark":{"type":"text","baseline":"middle","fontSize":14},"encoding":{"x":{"field":"first","type":"nominal","bandPosition":0.5,"axis":null},"y":{"datum":"label","type":"nominal","axis":null},"text":{"field":"grp"}}}
]},
{"width":147,"height":141,"title":{"text":"KC","dx":19,"offset":-26},"data":{"name":"bars"},"transform":[{"filter":"datum.c == 'KC'"}],
"encoding":{"x":{"field":"cond","type":"nominal","sort":null,"scale":{"domain":["Bb 2","Bb 14","SP-D 2","SP-D 9","SP-A 2"],"paddingInner":0.4,"paddingOuter":0.1},"axis":{"labelExpr":"split(datum.label, ' ')[1]","title":"AAV Day","titleX":-82,"titleY":11,"titleAlign":"left","titleBaseline":"middle","titleAngle":0}},
"xOffset":{"field":"trt","type":"nominal","sort":null,"scale":{"domain":["PBS, AAV9","Infected, AAV9"],"paddingInner":0,"paddingOuter":0}}},
"layer":[
{"mark":"bar","encoding":{"y":{"field":"val","type":"quantitative","stack":null,"scale":{"type":"log","domain":[1,100000],"nice":false},"axis":{"values":[1,10,100,1000,10000,100000],"tickCount":10,"format":"d","title":"pg/mL","titleX":-72,"titleBaseline":"middle"}},"y2":{"datum":1},"fill":{"field":"trt","type":"nominal","scale":{"domain":["PBS, AAV9","Infected, AAV9"],"range":["black","white"]},"legend":{"title":null}}}},
{"transform":[{"filter":"datum.err > datum.val"}],"mark":"rule","encoding":{"y":{"field":"val","type":"quantitative"},"y2":{"field":"err"}}},
{"transform":[{"filter":"datum.err > datum.val"}],"mark":{"type":"tick","size":8},"encoding":{"y":{"field":"err","type":"quantitative"}}},
{"transform":[{"filter":"datum.star"}],"mark":{"type":"text","font":"Liberation Sans","fontSize":15,"dy":1},"encoding":{"y":{"field":"err","type":"quantitative"},"text":{"field":"star"}}},
{"transform":[{"filter":"datum.sig && datum.star"}],"mark":{"type":"text","font":"DejaVu Sans","fontSize":10,"dy":-11},"encoding":{"y":{"field":"err","type":"quantitative"},"text":{"field":"sig"}}},
{"transform":[{"filter":"datum.sig && !datum.star"}],"mark":{"type":"text","font":"DejaVu Sans","fontSize":10,"dy":-5},"encoding":{"y":{"field":"err","type":"quantitative"},"text":{"field":"sig"}}}
]},
{"width":158,"height":141,"title":{"text":"MCP-1","font":"Lato","fontSize":17,"dx":16,"offset":-23},"data":{"name":"bars"},"transform":[{"filter":"datum.c == 'MCP-1'"}],
"encoding":{"x":{"field":"cond","type":"nominal","sort":null,"scale":{"domain":["Bb 2","Bb 14","SP-D 2","SP-D 9","SP-A 2"],"paddingInner":0.4,"paddingOuter":0.1},"axis":{"labelExpr":"split(datum.label, ' ')[1]","title":null}},
"xOffset":{"field":"trt","type":"nominal","sort":null,"scale":{"domain":["PBS, AAV9","Infected, AAV9"],"paddingInner":0,"paddingOuter":0}}},
"layer":[
{"mark":"bar","encoding":{"y":{"field":"val","type":"quantitative","stack":null,"scale":{"type":"log","domain":[1,100000],"nice":false},"axis":{"values":[1,10,100,1000,10000,100000],"tickCount":10,"format":"d","title":null}},"y2":{"datum":1},"fill":{"field":"trt","type":"nominal","scale":{"domain":["PBS, AAV9","Infected, AAV9"],"range":["black","white"]},"legend":{"title":null}}}},
{"transform":[{"filter":"datum.err > datum.val"}],"mark":"rule","encoding":{"y":{"field":"val","type":"quantitative"},"y2":{"field":"err"}}},
{"transform":[{"filter":"datum.err > datum.val"}],"mark":{"type":"tick","size":8},"encoding":{"y":{"field":"err","type":"quantitative"}}},
{"transform":[{"filter":"datum.star"}],"mark":{"type":"text","font":"Liberation Sans","fontSize":15,"dy":1},"encoding":{"y":{"field":"err","type":"quantitative"},"text":{"field":"star"}}},
{"transform":[{"filter":"datum.sig && datum.star"}],"mark":{"type":"text","font":"DejaVu Sans","fontSize":10,"dy":-11},"encoding":{"y":{"field":"err","type":"quantitative"},"text":{"field":"sig"}}},
{"transform":[{"filter":"datum.sig && !datum.star"}],"mark":{"type":"text","font":"DejaVu Sans","fontSize":10,"dy":-5},"encoding":{"y":{"field":"err","type":"quantitative"},"text":{"field":"sig"}}}
]},
{"width":160,"height":141,"title":{"text":"MIP-1α","font":"Lato","fontSize":17,"dx":12,"offset":-26},"data":{"name":"bars"},"transform":[{"filter":"datum.c == 'MIP-1α'"}],
"encoding":{"x":{"field":"cond","type":"nominal","sort":null,"scale":{"domain":["Bb 2","Bb 14","SP-D 2","SP-D 9","SP-A 2"],"paddingInner":0.4,"paddingOuter":0.1},"axis":{"labelExpr":"split(datum.label, ' ')[1]","title":null}},
"xOffset":{"field":"trt","type":"nominal","sort":null,"scale":{"domain":["PBS, AAV9","Infected, AAV9"],"paddingInner":0,"paddingOuter":0}}},
"layer":[
{"mark":"bar","encoding":{"y":{"field":"val","type":"quantitative","stack":null,"scale":{"type":"log","domain":[1,100000],"nice":false},"axis":{"values":[1,10,100,1000,10000,100000],"tickCount":10,"format":"d","title":null}},"y2":{"datum":1},"fill":{"field":"trt","type":"nominal","scale":{"domain":["PBS, AAV9","Infected, AAV9"],"range":["black","white"]},"legend":{"title":null}}}},
{"transform":[{"filter":"datum.err > datum.val"}],"mark":"rule","encoding":{"y":{"field":"val","type":"quantitative"},"y2":{"field":"err"}}},
{"transform":[{"filter":"datum.err > datum.val"}],"mark":{"type":"tick","size":8},"encoding":{"y":{"field":"err","type":"quantitative"}}},
{"transform":[{"filter":"datum.star"}],"mark":{"type":"text","font":"Liberation Sans","fontSize":15,"dy":1},"encoding":{"y":{"field":"err","type":"quantitative"},"text":{"field":"star"}}},
{"transform":[{"filter":"datum.sig && datum.star"}],"mark":{"type":"text","font":"DejaVu Sans","fontSize":10,"dy":-11},"encoding":{"y":{"field":"err","type":"quantitative"},"text":{"field":"sig"}}},
{"transform":[{"filter":"datum.sig && !datum.star"}],"mark":{"type":"text","font":"DejaVu Sans","fontSize":10,"dy":-5},"encoding":{"y":{"field":"err","type":"quantitative"},"text":{"field":"sig"}}}
]},
{"width":147,"height":52,"data":{"name":"groups"},"layer":[
{"mark":"rule","encoding":{"x":{"field":"first","type":"nominal","bandPosition":0,"scale":{"domain":["Bb 2","Bb 14","SP-D 2","SP-D 9","SP-A 2"],"paddingInner":0.4,"paddingOuter":0.1},"axis":null},"x2":{"field":"last","bandPosition":1},"y":{"datum":"line","type":"nominal","scale":{"type":"point","domain":["line","label"],"padding":2},"axis":null}}},
{"transform":[{"filter":"datum.n == 2"}],"mark":{"type":"text","baseline":"middle","fontSize":14},"encoding":{"x":{"field":"first","type":"nominal","bandPosition":1.3333,"axis":null},"y":{"datum":"label","type":"nominal","axis":null},"text":{"field":"grp"}}},
{"transform":[{"filter":"datum.n == 1"}],"mark":{"type":"text","baseline":"middle","fontSize":14},"encoding":{"x":{"field":"first","type":"nominal","bandPosition":0.5,"axis":null},"y":{"datum":"label","type":"nominal","axis":null},"text":{"field":"grp"}}}
]},
{"width":158,"height":52,"data":{"name":"groups"},"layer":[
{"mark":"rule","encoding":{"x":{"field":"first","type":"nominal","bandPosition":0,"scale":{"domain":["Bb 2","Bb 14","SP-D 2","SP-D 9","SP-A 2"],"paddingInner":0.4,"paddingOuter":0.1},"axis":null},"x2":{"field":"last","bandPosition":1},"y":{"datum":"line","type":"nominal","scale":{"type":"point","domain":["line","label"],"padding":2},"axis":null}}},
{"transform":[{"filter":"datum.n == 2"}],"mark":{"type":"text","baseline":"middle","fontSize":14},"encoding":{"x":{"field":"first","type":"nominal","bandPosition":1.3333,"axis":null},"y":{"datum":"label","type":"nominal","axis":null},"text":{"field":"grp"}}},
{"transform":[{"filter":"datum.n == 1"}],"mark":{"type":"text","baseline":"middle","fontSize":14},"encoding":{"x":{"field":"first","type":"nominal","bandPosition":0.5,"axis":null},"y":{"datum":"label","type":"nominal","axis":null},"text":{"field":"grp"}}}
]},
{"width":160,"height":52,"data":{"name":"groups"},"layer":[
{"mark":"rule","encoding":{"x":{"field":"first","type":"nominal","bandPosition":0,"scale":{"domain":["Bb 2","Bb 14","SP-D 2","SP-D 9","SP-A 2"],"paddingInner":0.4,"paddingOuter":0.1},"axis":null},"x2":{"field":"last","bandPosition":1},"y":{"datum":"line","type":"nominal","scale":{"type":"point","domain":["line","label"],"padding":2},"axis":null}}},
{"transform":[{"filter":"datum.n == 2"}],"mark":{"type":"text","baseline":"middle","fontSize":14},"encoding":{"x":{"field":"first","type":"nominal","bandPosition":1.3333,"axis":null},"y":{"datum":"label","type":"nominal","axis":null},"text":{"field":"grp"}}},
{"transform":[{"filter":"datum.n == 1"}],"mark":{"type":"text","baseline":"middle","fontSize":14},"encoding":{"x":{"field":"first","type":"nominal","bandPosition":0.5,"axis":null},"y":{"datum":"label","type":"nominal","axis":null},"text":{"field":"grp"}}}
]},
{"width":147,"height":141,"title":{"text":"MIP-1 beta","font":"Lato","fontSize":17,"dx":12,"offset":-19},"data":{"name":"bars"},"transform":[{"filter":"datum.c == 'MIP-1 beta'"}],
"encoding":{"x":{"field":"cond","type":"nominal","sort":null,"scale":{"domain":["Bb 2","Bb 14","SP-D 2","SP-D 9","SP-A 2"],"paddingInner":0.4,"paddingOuter":0.1},"axis":{"labelExpr":"split(datum.label, ' ')[1]","title":"AAV Day","titleX":-82,"titleY":11,"titleAlign":"left","titleBaseline":"middle","titleAngle":0}},
"xOffset":{"field":"trt","type":"nominal","sort":null,"scale":{"domain":["PBS, AAV9","Infected, AAV9"],"paddingInner":0,"paddingOuter":0}}},
"layer":[
{"mark":"bar","encoding":{"y":{"field":"val","type":"quantitative","stack":null,"scale":{"type":"log","domain":[1,100000],"nice":false},"axis":{"values":[1,10,100,1000,10000,100000],"tickCount":10,"format":"d","title":"pg/mL","titleX":-72,"titleBaseline":"middle"}},"y2":{"datum":1},"fill":{"field":"trt","type":"nominal","scale":{"domain":["PBS, AAV9","Infected, AAV9"],"range":["black","white"]},"legend":{"title":null}}}},
{"transform":[{"filter":"datum.err > datum.val"}],"mark":"rule","encoding":{"y":{"field":"val","type":"quantitative"},"y2":{"field":"err"}}},
{"transform":[{"filter":"datum.err > datum.val"}],"mark":{"type":"tick","size":8},"encoding":{"y":{"field":"err","type":"quantitative"}}},
{"transform":[{"filter":"datum.star"}],"mark":{"type":"text","font":"Liberation Sans","fontSize":15,"dy":1},"encoding":{"y":{"field":"err","type":"quantitative"},"text":{"field":"star"}}},
{"transform":[{"filter":"datum.sig && datum.star"}],"mark":{"type":"text","font":"DejaVu Sans","fontSize":10,"dy":-11},"encoding":{"y":{"field":"err","type":"quantitative"},"text":{"field":"sig"}}},
{"transform":[{"filter":"datum.sig && !datum.star"}],"mark":{"type":"text","font":"DejaVu Sans","fontSize":10,"dy":-5},"encoding":{"y":{"field":"err","type":"quantitative"},"text":{"field":"sig"}}}
]},
{"width":158,"height":141,"title":{"text":"MIP-2","font":"Lato","fontSize":17,"dx":12,"offset":-22},"data":{"name":"bars"},"transform":[{"filter":"datum.c == 'MIP-2'"}],
"encoding":{"x":{"field":"cond","type":"nominal","sort":null,"scale":{"domain":["Bb 2","Bb 14","SP-D 2","SP-D 9","SP-A 2"],"paddingInner":0.4,"paddingOuter":0.1},"axis":{"labelExpr":"split(datum.label, ' ')[1]","title":null}},
"xOffset":{"field":"trt","type":"nominal","sort":null,"scale":{"domain":["PBS, AAV9","Infected, AAV9"],"paddingInner":0,"paddingOuter":0}}},
"layer":[
{"mark":"bar","encoding":{"y":{"field":"val","type":"quantitative","stack":null,"scale":{"type":"log","domain":[1,100000],"nice":false},"axis":{"values":[1,10,100,1000,10000,100000],"tickCount":10,"format":"d","title":null}},"y2":{"datum":1},"fill":{"field":"trt","type":"nominal","scale":{"domain":["PBS, AAV9","Infected, AAV9"],"range":["black","white"]},"legend":{"title":null}}}},
{"transform":[{"filter":"datum.err > datum.val"}],"mark":"rule","encoding":{"y":{"field":"val","type":"quantitative"},"y2":{"field":"err"}}},
{"transform":[{"filter":"datum.err > datum.val"}],"mark":{"type":"tick","size":8},"encoding":{"y":{"field":"err","type":"quantitative"}}},
{"transform":[{"filter":"datum.star"}],"mark":{"type":"text","font":"Liberation Sans","fontSize":15,"dy":1},"encoding":{"y":{"field":"err","type":"quantitative"},"text":{"field":"star"}}},
{"transform":[{"filter":"datum.sig && datum.star"}],"mark":{"type":"text","font":"DejaVu Sans","fontSize":10,"dy":-11},"encoding":{"y":{"field":"err","type":"quantitative"},"text":{"field":"sig"}}},
{"transform":[{"filter":"datum.sig && !datum.star"}],"mark":{"type":"text","font":"DejaVu Sans","fontSize":10,"dy":-5},"encoding":{"y":{"field":"err","type":"quantitative"},"text":{"field":"sig"}}}
]},
{"width":160,"height":141,"title":{"text":"TNF-α","font":"Lato","fontSize":17,"dx":12,"offset":-22},"data":{"name":"bars"},"transform":[{"filter":"datum.c == 'TNF-α'"}],
"encoding":{"x":{"field":"cond","type":"nominal","sort":null,"scale":{"domain":["Bb 2","Bb 14","SP-D 2","SP-D 9","SP-A 2"],"paddingInner":0.4,"paddingOuter":0.1},"axis":{"labelExpr":"split(datum.label, ' ')[1]","title":null}},
"xOffset":{"field":"trt","type":"nominal","sort":null,"scale":{"domain":["PBS, AAV9","Infected, AAV9"],"paddingInner":0,"paddingOuter":0}}},
"layer":[
{"mark":"bar","encoding":{"y":{"field":"val","type":"quantitative","stack":null,"scale":{"type":"log","domain":[1,100000],"nice":false},"axis":{"values":[1,10,100,1000,10000,100000],"tickCount":10,"format":"d","title":null}},"y2":{"datum":1},"fill":{"field":"trt","type":"nominal","scale":{"domain":["PBS, AAV9","Infected, AAV9"],"range":["black","white"]},"legend":{"title":null}}}},
{"transform":[{"filter":"datum.err > datum.val"}],"mark":"rule","encoding":{"y":{"field":"val","type":"quantitative"},"y2":{"field":"err"}}},
{"transform":[{"filter":"datum.err > datum.val"}],"mark":{"type":"tick","size":8},"encoding":{"y":{"field":"err","type":"quantitative"}}},
{"transform":[{"filter":"datum.star"}],"mark":{"type":"text","font":"Liberation Sans","fontSize":15,"dy":1},"encoding":{"y":{"field":"err","type":"quantitative"},"text":{"field":"star"}}},
{"transform":[{"filter":"datum.sig && datum.star"}],"mark":{"type":"text","font":"DejaVu Sans","fontSize":10,"dy":-11},"encoding":{"y":{"field":"err","type":"quantitative"},"text":{"field":"sig"}}},
{"transform":[{"filter":"datum.sig && !datum.star"}],"mark":{"type":"text","font":"DejaVu Sans","fontSize":10,"dy":-5},"encoding":{"y":{"field":"err","type":"quantitative"},"text":{"field":"sig"}}}
]},
{"width":147,"height":52,"data":{"name":"groups"},"layer":[
{"mark":"rule","encoding":{"x":{"field":"first","type":"nominal","bandPosition":0,"scale":{"domain":["Bb 2","Bb 14","SP-D 2","SP-D 9","SP-A 2"],"paddingInner":0.4,"paddingOuter":0.1},"axis":null},"x2":{"field":"last","bandPosition":1},"y":{"datum":"line","type":"nominal","scale":{"type":"point","domain":["line","label"],"padding":2},"axis":null}}},
{"transform":[{"filter":"datum.n == 2"}],"mark":{"type":"text","baseline":"middle","fontSize":14},"encoding":{"x":{"field":"first","type":"nominal","bandPosition":1.3333,"axis":null},"y":{"datum":"label","type":"nominal","axis":null},"text":{"field":"grp"}}},
{"transform":[{"filter":"datum.n == 1"}],"mark":{"type":"text","baseline":"middle","fontSize":14},"encoding":{"x":{"field":"first","type":"nominal","bandPosition":0.5,"axis":null},"y":{"datum":"label","type":"nominal","axis":null},"text":{"field":"grp"}}}
]},
{"width":158,"height":52,"data":{"name":"groups"},"layer":[
{"mark":"rule","encoding":{"x":{"field":"first","type":"nominal","bandPosition":0,"scale":{"domain":["Bb 2","Bb 14","SP-D 2","SP-D 9","SP-A 2"],"paddingInner":0.4,"paddingOuter":0.1},"axis":null},"x2":{"field":"last","bandPosition":1},"y":{"datum":"line","type":"nominal","scale":{"type":"point","domain":["line","label"],"padding":2},"axis":null}}},
{"transform":[{"filter":"datum.n == 2"}],"mark":{"type":"text","baseline":"middle","fontSize":14},"encoding":{"x":{"field":"first","type":"nominal","bandPosition":1.3333,"axis":null},"y":{"datum":"label","type":"nominal","axis":null},"text":{"field":"grp"}}},
{"transform":[{"filter":"datum.n == 1"}],"mark":{"type":"text","baseline":"middle","fontSize":14},"encoding":{"x":{"field":"first","type":"nominal","bandPosition":0.5,"axis":null},"y":{"datum":"label","type":"nominal","axis":null},"text":{"field":"grp"}}}
]},
{"width":160,"height":52,"data":{"name":"groups"},"layer":[
{"mark":"rule","encoding":{"x":{"field":"first","type":"nominal","bandPosition":0,"scale":{"domain":["Bb 2","Bb 14","SP-D 2","SP-D 9","SP-A 2"],"paddingInner":0.4,"paddingOuter":0.1},"axis":null},"x2":{"field":"last","bandPosition":1},"y":{"datum":"line","type":"nominal","scale":{"type":"point","domain":["line","label"],"padding":2},"axis":null}}},
{"transform":[{"filter":"datum.n == 2"}],"mark":{"type":"text","baseline":"middle","fontSize":14},"encoding":{"x":{"field":"first","type":"nominal","bandPosition":1.3333,"axis":null},"y":{"datum":"label","type":"nominal","axis":null},"text":{"field":"grp"}}},
{"transform":[{"filter":"datum.n == 1"}],"mark":{"type":"text","baseline":"middle","fontSize":14},"encoding":{"x":{"field":"first","type":"nominal","bandPosition":0.5,"axis":null},"y":{"datum":"label","type":"nominal","axis":null},"text":{"field":"grp"}}}
]},
{"width":147,"height":142,"title":{"text":"RANTES","font":"Lato","fontSize":17,"dx":12,"offset":-20},"data":{"name":"bars"},"transform":[{"filter":"datum.c == 'RANTES'"}],
"encoding":{"x":{"field":"cond","type":"nominal","sort":null,"scale":{"domain":["Bb 2","Bb 14","SP-D 2","SP-D 9","SP-A 2"],"paddingInner":0.4,"paddingOuter":0.1},"axis":{"labelExpr":"split(datum.label, ' ')[1]","title":"AAV Day","titleX":-82,"titleY":11,"titleAlign":"left","titleBaseline":"middle","titleAngle":0}},
"xOffset":{"field":"trt","type":"nominal","sort":null,"scale":{"domain":["PBS, AAV9","Infected, AAV9"],"paddingInner":0,"paddingOuter":0}}},
"layer":[
{"mark":"bar","encoding":{"y":{"field":"val","type":"quantitative","stack":null,"scale":{"type":"log","domain":[1,100000],"nice":false},"axis":{"values":[1,10,100,1000,10000,100000],"tickCount":10,"format":"d","title":"pg/mL","titleX":-72,"titleBaseline":"middle"}},"y2":{"datum":1},"fill":{"field":"trt","type":"nominal","scale":{"domain":["PBS, AAV9","Infected, AAV9"],"range":["black","white"]},"legend":{"title":null}}}},
{"transform":[{"filter":"datum.err > datum.val"}],"mark":"rule","encoding":{"y":{"field":"val","type":"quantitative"},"y2":{"field":"err"}}},
{"transform":[{"filter":"datum.err > datum.val"}],"mark":{"type":"tick","size":8},"encoding":{"y":{"field":"err","type":"quantitative"}}},
{"transform":[{"filter":"datum.star"}],"mark":{"type":"text","font":"Liberation Sans","fontSize":15,"dy":1},"encoding":{"y":{"field":"err","type":"quantitative"},"text":{"field":"star"}}},
{"transform":[{"filter":"datum.sig && datum.star"}],"mark":{"type":"text","font":"DejaVu Sans","fontSize":10,"dy":-11},"encoding":{"y":{"field":"err","type":"quantitative"},"text":{"field":"sig"}}},
{"transform":[{"filter":"datum.sig && !datum.star"}],"mark":{"type":"text","font":"DejaVu Sans","fontSize":10,"dy":-5},"encoding":{"y":{"field":"err","type":"quantitative"},"text":{"field":"sig"}}}
]},
{"width":1,"height":1,"data":{"values":[{}]},"mark":{"type":"text"},"encoding":{"text":{"value":""}}},
{"width":1,"height":1,"data":{"values":[{}]},"mark":{"type":"text"},"encoding":{"text":{"value":""}}},
{"width":147,"height":52,"data":{"name":"groups"},"layer":[
{"mark":"rule","encoding":{"x":{"field":"first","type":"nominal","bandPosition":0,"scale":{"domain":["Bb 2","Bb 14","SP-D 2","SP-D 9","SP-A 2"],"paddingInner":0.4,"paddingOuter":0.1},"axis":null},"x2":{"field":"last","bandPosition":1},"y":{"datum":"line","type":"nominal","scale":{"type":"point","domain":["line","label"],"padding":2},"axis":null}}},
{"transform":[{"filter":"datum.n == 2"}],"mark":{"type":"text","baseline":"middle","fontSize":14},"encoding":{"x":{"field":"first","type":"nominal","bandPosition":1.3333,"axis":null},"y":{"datum":"label","type":"nominal","axis":null},"text":{"field":"grp"}}},
{"transform":[{"filter":"datum.n == 1"}],"mark":{"type":"text","baseline":"middle","fontSize":14},"encoding":{"x":{"field":"first","type":"nominal","bandPosition":0.5,"axis":null},"y":{"datum":"label","type":"nominal","axis":null},"text":{"field":"grp"}}}
]}
],
"config":{
"view":{"stroke":null},
"font":"Liberation Sans",
"bar":{"stroke":"black","strokeWidth":1},
"rule":{"color":"black","strokeWidth":1.3},
"tick":{"color":"black","thickness":1.3},
"text":{"baseline":"alphabetic","color":"black","font":"Liberation Sans"},
"axis":{"grid":false,"domainColor":"#8c8c8c","tickColor":"#8c8c8c","domainWidth":1.3,"tickWidth":1.3,"labelFont":"Liberation Sans","labelColor":"#1a1a1a","titleFont":"Liberation Sans","titleColor":"#1a1a1a","labelOverlap":false},
"axisX":{"ticks":false,"labelAngle":0,"labelFontSize":14,"labelPadding":4,"titleFontSize":14,"titleFontWeight":"normal"},
"axisY":{"tickSize":5,"labelFontSize":14,"labelPadding":4,"titleFontSize":19,"titleFontWeight":"bold","titleColor":"black"},
"title":{"anchor":"start","frame":"group","font":"Liberation Sans","fontSize":18,"fontWeight":"bold","color":"black","dx":12,"offset":-18,"baseline":"alphabetic"},
"legend":{"orient":"none","legendX":118,"legendY":-40,"direction":"horizontal","symbolType":"square","symbolSize":144,"symbolStrokeColor":"black","symbolStrokeWidth":1.2,"labelFont":"Liberation Sans","labelFontSize":18,"labelFontWeight":"bold","labelColor":"black","columnPadding":100,"labelOffset":10,"labelLimit":400,"padding":0}
}
}
